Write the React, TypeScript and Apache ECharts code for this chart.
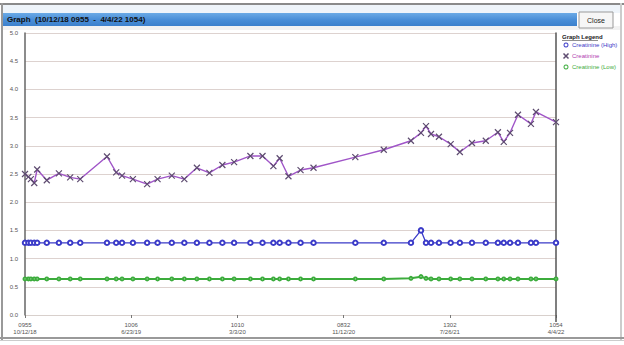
import React, { useEffect, useRef } from "react";
import * as echarts from "echarts";

const startTime = "2018-10-12T09:55:00";
const endTime = "2022-04-04T10:54:00";

const resultDates = [
  "2018-10-12T09:55:00", "2018-10-20T12:00:00", "2018-10-26T12:00:00", "2018-11-03T12:00:00",
  "2018-11-10T12:00:00", "2018-12-03T12:00:00", "2019-01-01T12:00:00", "2019-01-28T12:00:00",
  "2019-02-21T12:00:00", "2019-04-26T12:00:00", "2019-05-18T12:00:00", "2019-06-01T12:00:00",
  "2019-06-27T12:00:00", "2019-07-31T12:00:00", "2019-08-25T12:00:00", "2019-09-28T12:00:00",
  "2019-10-28T12:00:00", "2019-11-27T12:00:00", "2019-12-27T12:00:00", "2020-01-27T12:00:00",
  "2020-02-24T12:00:00", "2020-04-03T12:00:00", "2020-05-02T12:00:00", "2020-05-28T12:00:00",
  "2020-06-12T12:00:00", "2020-07-03T12:00:00", "2020-08-01T12:00:00", "2020-09-01T12:00:00",
  "2020-12-10T12:00:00", "2021-02-16T12:00:00", "2021-04-22T12:00:00", "2021-05-16T12:00:00",
  "2021-05-28T12:00:00", "2021-06-09T12:00:00", "2021-06-28T12:00:00", "2021-07-26T13:02:00",
  "2021-08-17T12:00:00", "2021-09-15T12:00:00", "2021-10-18T12:00:00", "2021-11-16T12:00:00",
  "2021-11-30T12:00:00", "2021-12-15T12:00:00", "2022-01-03T12:00:00", "2022-02-03T12:00:00",
  "2022-02-15T12:00:00", "2022-04-04T10:54:00",
];

const creatinine = [
  2.5, 2.45, 2.41, 2.34, 2.58, 2.39, 2.51, 2.44,
  2.41, 2.81, 2.53, 2.47, 2.41, 2.32, 2.41, 2.47,
  2.41, 2.61, 2.52, 2.66, 2.71, 2.82, 2.82, 2.64,
  2.78, 2.46, 2.57, 2.61, 2.8, 2.93, 3.09, 3.23,
  3.35, 3.21, 3.16, 3.03, 2.89, 3.05, 3.09, 3.24,
  3.07, 3.23, 3.55, 3.39, 3.6, 3.42,
];

const creatinineHigh = [
  1.28, 1.28, 1.28, 1.28, 1.28, 1.28, 1.28, 1.28,
  1.28, 1.28, 1.28, 1.28, 1.28, 1.28, 1.28, 1.28,
  1.28, 1.28, 1.28, 1.28, 1.28, 1.28, 1.28, 1.28,
  1.28, 1.28, 1.28, 1.28, 1.28, 1.28, 1.28, 1.5,
  1.28, 1.28, 1.28, 1.28, 1.28, 1.28, 1.28, 1.28,
  1.28, 1.28, 1.28, 1.28, 1.28, 1.28,
];

const creatinineLow = [
  0.64, 0.64, 0.64, 0.64, 0.64, 0.64, 0.64, 0.64,
  0.64, 0.64, 0.64, 0.64, 0.64, 0.64, 0.64, 0.64,
  0.64, 0.64, 0.64, 0.64, 0.64, 0.64, 0.64, 0.64,
  0.64, 0.64, 0.64, 0.64, 0.64, 0.64, 0.65, 0.68,
  0.65, 0.64, 0.64, 0.64, 0.64, 0.64, 0.64, 0.64,
  0.64, 0.64, 0.64, 0.64, 0.64, 0.64,
];

const xTickLabels = [
  "0955\n10/12/18",
  "1006\n6/23/19",
  "1010\n3/3/20",
  "0832\n11/12/20",
  "1302\n7/26/21",
  "1054\n4/4/22",
];

const yTickValues = [0, 0.5, 1, 1.5, 2, 2.5, 3, 3.5, 4, 4.5, 5];

const titleText = "Graph  (10/12/18 0955  -  4/4/22 1054)";
const seriesNames = ["Creatinine (High)", "Creatinine", "Creatinine (Low)"];

const FONT = "Liberation Sans";
const X_SYMBOL = "path://M0,0L10,10M10,0L0,10";
const RING_SYMBOL =
  "path://M5,0A5,5,0,1,1,4.99,0ZM5,2A3,3,0,1,0,5.01,2Z";

export default function App() {
  const ref = useRef<HTMLDivElement>(null);

  useEffect(() => {
    if (!ref.current) return;
    const chart = echarts.init(ref.current, undefined, { renderer: "svg" });
    const t0 = new Date(startTime).getTime();
    const t1 = new Date(endTime).getTime();
    const tickVals = xTickLabels.map((_, i) => t0 + ((t1 - t0) * i) / (xTickLabels.length - 1));
    const ts = resultDates.map((d) => new Date(d).getTime());
    const pair = (arr: number[]) => arr.map((v, i) => [ts[i], v]);

    const blue = "#3b3bc8";
    const purple = "#a055c8";
    const xColor = "#5e4c70";
    const green = "#3cac3c";

    chart.setOption({
      animation: false,
      backgroundColor: "#ffffff",
      textStyle: { fontFamily: FONT },
      grid: { left: 25, right: 68, top: 33, bottom: 30, containLabel: false },
      xAxis: {
        type: "value",
        min: t0,
        max: t1,
        scale: true,
        axisLine: { show: true, onZero: false, lineStyle: { color: "#d8d0cc", width: 1 } },
        axisTick: { show: true, length: 3, lineStyle: { color: "#777" }, customValues: tickVals },
        axisLabel: {
          customValues: tickVals,
          fontSize: 6,
          lineHeight: 7,
          color: "#555",
          margin: 6,
          formatter: (val: number) => {
            let best = 0;
            let bd = Infinity;
            tickVals.forEach((tv, i) => {
              const d = Math.abs(tv - val);
              if (d < bd) { bd = d; best = i; }
            });
            return xTickLabels[best];
          },
        },
        splitLine: { show: false },
      },
      yAxis: [
        {
          type: "value",
          min: 0,
          max: 5,
          interval: 0.5,
          axisLine: { show: true, lineStyle: { color: "#666", width: 1.5 } },
          axisTick: { show: false },
          axisLabel: {
            fontSize: 6,
            color: "#555",
            margin: 7,
            formatter: (v: number) => {
              const found = yTickValues.find((t) => Math.abs(t - v) < 1e-6);
              return found === undefined ? "" : found.toFixed(1);
            },
          },
          splitLine: { show: true, lineStyle: { color: "#ddd2cf", width: 1 } },
        },
        {
          type: "value",
          min: 0,
          max: 5,
          interval: 0.5,
          position: "right",
          axisLine: { show: true, lineStyle: { color: "#555", width: 1.5 } },
          axisTick: { show: false },
          axisLabel: { show: false },
          splitLine: { show: false },
        },
      ],
      legend: {
        orient: "vertical",
        left: 561,
        top: 42,
        padding: 0,
        itemWidth: 6,
        itemHeight: 5,
        itemGap: 3,
        textStyle: { fontSize: 6, fontFamily: FONT, padding: [0, 0, 0, -2] },
        data: [
          {
            name: seriesNames[0],
            icon: RING_SYMBOL,
            itemStyle: { color: blue, borderWidth: 0 },
            textStyle: { color: blue },
          },
          {
            name: seriesNames[1],
            icon: X_SYMBOL,
            itemStyle: { color: "none", borderColor: xColor, borderWidth: 1.5 },
            textStyle: { color: "#b03cb0" },
          },
          {
            name: seriesNames[2],
            icon: RING_SYMBOL,
            itemStyle: { color: green, borderWidth: 0 },
            textStyle: { color: green },
          },
        ],
      },
      series: [
        {
          name: seriesNames[0],
          type: "line",
          data: pair(creatinineHigh),
          symbol: "emptyCircle",
          symbolSize: 4.5,
          itemStyle: { color: blue, borderColor: blue, borderWidth: 0.9 },
          lineStyle: { color: blue, width: 1.3 },
          z: 3,
        },
        {
          name: seriesNames[2],
          type: "line",
          data: pair(creatinineLow),
          symbol: "emptyCircle",
          symbolSize: 3,
          itemStyle: { color: green, borderColor: green, borderWidth: 0.8 },
          lineStyle: { color: green, width: 2 },
          z: 3,
        },
        {
          name: seriesNames[1],
          type: "line",
          data: pair(creatinine),
          symbol: X_SYMBOL,
          symbolSize: 6,
          itemStyle: { color: "none", borderColor: xColor, borderWidth: 1.2 },
          lineStyle: { color: purple, width: 1.4 },
          z: 4,
        },
      ],
      graphic: [
        { type: "rect", z: -10, shape: { x: 0, y: 3, width: 624, height: 2 }, style: { fill: "#8a8a8a" } },
        { type: "rect", z: -10, shape: { x: 1, y: 3, width: 2, height: 338 }, style: { fill: "#999" } },
        { type: "rect", z: -10, shape: { x: 620, y: 3, width: 2, height: 338 }, style: { fill: "#ccc" } },
        { type: "rect", z: -10, shape: { x: 0, y: 337, width: 624, height: 2 }, style: { fill: "#999" } },
        { type: "rect", z: -10, shape: { x: 0, y: 340, width: 624, height: 1 }, style: { fill: "#ccc" } },
        { type: "rect", z: -10, shape: { x: 3, y: 5, width: 617, height: 8 }, style: { fill: "#eef4fa" } },
        {
          type: "rect",
          z: -5,
          shape: { x: 3, y: 13, width: 574, height: 13 },
          style: {
            fill: new echarts.graphic.LinearGradient(0, 0, 0, 1, [
              { offset: 0, color: "#6aaae6" },
              { offset: 0.5, color: "#4a8fd8" },
              { offset: 1, color: "#3c80cc" },
            ]),
          },
        },
        {
          type: "text",
          z: 10,
          left: 7,
          top: 15,
          style: { text: titleText, fontSize: 8, fontWeight: "bold", fill: "#111", fontFamily: FONT },
        },
        { type: "rect", z: -5, shape: { x: 3, y: 26, width: 617, height: 4 }, style: { fill: "#f2f2f2" } },
        {
          type: "rect",
          z: 5,
          shape: { x: 579, y: 12, width: 34, height: 16 },
          style: { fill: "#f6f6f6", stroke: "#9a9a9a", lineWidth: 1 },
        },
        {
          type: "text",
          z: 10,
          x: 596,
          y: 20,
          style: { text: "Close", fontSize: 7, fill: "#222", align: "center", verticalAlign: "middle", fontFamily: FONT },
        },
        {
          type: "text",
          z: 10,
          x: 562,
          y: 37,
          style: { text: "Graph Legend", fontSize: 6, fontWeight: "bold", fill: "#222", verticalAlign: "middle", fontFamily: FONT },
        },
        { type: "line", z: 10, shape: { x1: 562, y1: 40.5, x2: 598, y2: 40.5 }, style: { stroke: "#444", lineWidth: 0.6 } },
        { type: "line", z: 10, shape: { x1: 556, y1: 315, x2: 556, y2: 322 }, style: { stroke: "#555", lineWidth: 1.5 } },
      ],
    });
    return () => chart.dispose();
  }, []);

  return (
    <div
      ref={ref}
      style={{ position: "fixed", left: 0, top: 0, width: 624, height: 345, background: "#fff" }}
    />
  );
}
